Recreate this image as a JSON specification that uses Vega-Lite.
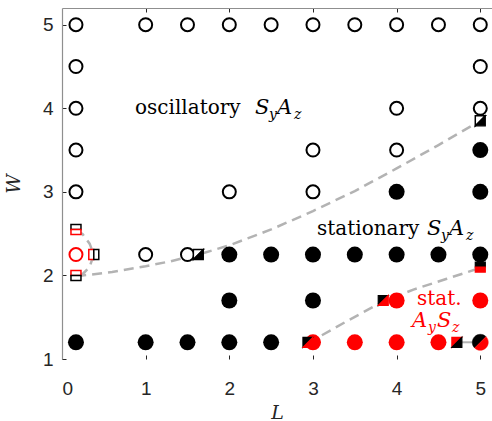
{
  "$schema": "https://vega.github.io/schema/vega-lite/v6.json",
  "width": 430,
  "height": 351,
  "autosize": {"type": "none"},
  "padding": {"left": 62, "top": 8, "right": 0, "bottom": 62},
  "background": "#ffffff",
  "config": {"view": {"stroke": null}},
  "datasets": {
    "runs": [
      {"L": 0.167, "W": 5, "branch": "SyAz", "regime": "osc"},
      {"L": 1, "W": 5, "branch": "SyAz", "regime": "osc"},
      {"L": 1.5, "W": 5, "branch": "SyAz", "regime": "osc"},
      {"L": 2, "W": 5, "branch": "SyAz", "regime": "osc"},
      {"L": 2.5, "W": 5, "branch": "SyAz", "regime": "osc"},
      {"L": 3, "W": 5, "branch": "SyAz", "regime": "osc"},
      {"L": 3.5, "W": 5, "branch": "SyAz", "regime": "osc"},
      {"L": 4, "W": 5, "branch": "SyAz", "regime": "osc"},
      {"L": 4.5, "W": 5, "branch": "SyAz", "regime": "osc"},
      {"L": 5, "W": 5, "branch": "SyAz", "regime": "osc"},
      {"L": 0.167, "W": 4.5, "branch": "SyAz", "regime": "osc"},
      {"L": 5, "W": 4.5, "branch": "SyAz", "regime": "osc"},
      {"L": 0.167, "W": 4, "branch": "SyAz", "regime": "osc"},
      {"L": 4, "W": 4, "branch": "SyAz", "regime": "osc"},
      {"L": 5, "W": 4, "branch": "SyAz", "regime": "osc"},
      {"L": 0.167, "W": 3.5, "branch": "SyAz", "regime": "osc"},
      {"L": 3, "W": 3.5, "branch": "SyAz", "regime": "osc"},
      {"L": 4, "W": 3.5, "branch": "SyAz", "regime": "osc"},
      {"L": 5, "W": 3.5, "branch": "SyAz", "regime": "stat"},
      {"L": 0.167, "W": 3, "branch": "SyAz", "regime": "osc"},
      {"L": 2, "W": 3, "branch": "SyAz", "regime": "osc"},
      {"L": 3, "W": 3, "branch": "SyAz", "regime": "osc"},
      {"L": 4, "W": 3, "branch": "SyAz", "regime": "stat"},
      {"L": 5, "W": 3, "branch": "SyAz", "regime": "stat"},
      {"L": 0.167, "W": 2.25, "branch": "AySz", "regime": "osc"},
      {"L": 1, "W": 2.25, "branch": "SyAz", "regime": "osc"},
      {"L": 1.5, "W": 2.25, "branch": "SyAz", "regime": "osc"},
      {"L": 2, "W": 2.25, "branch": "SyAz", "regime": "stat"},
      {"L": 2.5, "W": 2.25, "branch": "SyAz", "regime": "stat"},
      {"L": 3, "W": 2.25, "branch": "SyAz", "regime": "stat"},
      {"L": 3.5, "W": 2.25, "branch": "SyAz", "regime": "stat"},
      {"L": 4, "W": 2.25, "branch": "SyAz", "regime": "stat"},
      {"L": 4.5, "W": 2.25, "branch": "SyAz", "regime": "stat"},
      {"L": 5, "W": 2.25, "branch": "SyAz", "regime": "stat"},
      {"L": 2, "W": 1.7, "branch": "SyAz", "regime": "stat"},
      {"L": 3, "W": 1.7, "branch": "SyAz", "regime": "stat"},
      {"L": 4, "W": 1.7, "branch": "AySz", "regime": "stat"},
      {"L": 5, "W": 1.7, "branch": "AySz", "regime": "stat"},
      {"L": 0.167, "W": 1.2, "branch": "SyAz", "regime": "stat"},
      {"L": 1, "W": 1.2, "branch": "SyAz", "regime": "stat"},
      {"L": 1.5, "W": 1.2, "branch": "SyAz", "regime": "stat"},
      {"L": 2, "W": 1.2, "branch": "SyAz", "regime": "stat"},
      {"L": 2.5, "W": 1.2, "branch": "SyAz", "regime": "stat"},
      {"L": 3, "W": 1.2, "branch": "AySz", "regime": "stat"},
      {"L": 3.5, "W": 1.2, "branch": "AySz", "regime": "stat"},
      {"L": 4, "W": 1.2, "branch": "AySz", "regime": "stat"},
      {"L": 4.5, "W": 1.2, "branch": "AySz", "regime": "stat"}
    ],
    "switches": [
      {"L": 0.167, "W": 2.55, "marker": "square", "part": "top", "branch": "SyAz", "regime": "osc"},
      {"L": 0.167, "W": 2.55, "marker": "square", "part": "bottom", "branch": "AySz", "regime": "osc"},
      {"L": 0.167, "W": 2.0, "marker": "square", "part": "top", "branch": "AySz", "regime": "osc"},
      {"L": 0.167, "W": 2.0, "marker": "square", "part": "bottom", "branch": "SyAz", "regime": "osc"},
      {"L": 0.38, "W": 2.25, "marker": "square", "part": "left", "branch": "AySz", "regime": "osc"},
      {"L": 0.38, "W": 2.25, "marker": "square", "part": "right", "branch": "SyAz", "regime": "osc"},
      {"L": 1.63, "W": 2.25, "marker": "square", "part": "upper-left", "branch": "SyAz", "regime": "osc"},
      {"L": 1.63, "W": 2.25, "marker": "square", "part": "lower-right", "branch": "SyAz", "regime": "stat"},
      {"L": 5, "W": 3.85, "marker": "square", "part": "upper-left", "branch": "SyAz", "regime": "osc"},
      {"L": 5, "W": 3.85, "marker": "square", "part": "lower-right", "branch": "SyAz", "regime": "stat"},
      {"L": 5, "W": 2.1, "marker": "square", "part": "top", "branch": "SyAz", "regime": "stat"},
      {"L": 5, "W": 2.1, "marker": "square", "part": "bottom", "branch": "AySz", "regime": "stat"},
      {"L": 3.84, "W": 1.7, "marker": "square", "part": "upper-left", "branch": "SyAz", "regime": "stat"},
      {"L": 3.84, "W": 1.7, "marker": "square", "part": "lower-right", "branch": "AySz", "regime": "stat"},
      {"L": 2.94, "W": 1.2, "marker": "square", "part": "upper-left", "branch": "SyAz", "regime": "stat"},
      {"L": 2.94, "W": 1.2, "marker": "square", "part": "lower-right", "branch": "AySz", "regime": "stat"},
      {"L": 4.72, "W": 1.2, "marker": "square", "part": "upper-left", "branch": "AySz", "regime": "stat"},
      {"L": 4.72, "W": 1.2, "marker": "square", "part": "lower-right", "branch": "SyAz", "regime": "stat"},
      {"L": 5, "W": 1.2, "marker": "disc", "part": "disc-upper-left", "branch": "SyAz", "regime": "stat"},
      {"L": 5, "W": 1.2, "marker": "disc", "part": "disc-lower-right", "branch": "AySz", "regime": "stat"}
    ],
    "boundaries": [
      {"curve": "a", "seq": 1, "L": 0.17, "W": 1.99, "style": "dashed"},
      {"curve": "a", "seq": 2, "L": 0.6, "W": 2.04, "style": "dashed"},
      {"curve": "a", "seq": 3, "L": 1.0, "W": 2.11, "style": "dashed"},
      {"curve": "a", "seq": 4, "L": 1.3, "W": 2.17, "style": "dashed"},
      {"curve": "a", "seq": 5, "L": 1.63, "W": 2.25, "style": "dashed"},
      {"curve": "a", "seq": 6, "L": 2.0, "W": 2.36, "style": "dashed"},
      {"curve": "a", "seq": 7, "L": 2.5, "W": 2.55, "style": "dashed"},
      {"curve": "a", "seq": 8, "L": 3.0, "W": 2.77, "style": "dashed"},
      {"curve": "a", "seq": 9, "L": 3.5, "W": 3.01, "style": "dashed"},
      {"curve": "a", "seq": 10, "L": 4.0, "W": 3.28, "style": "dashed"},
      {"curve": "a", "seq": 11, "L": 4.5, "W": 3.56, "style": "dashed"},
      {"curve": "a", "seq": 12, "L": 5.0, "W": 3.85, "style": "dashed"},
      {"curve": "b", "seq": 1, "L": 0.167, "W": 2.55, "style": "dashed"},
      {"curve": "b", "seq": 2, "L": 0.25, "W": 2.49, "style": "dashed"},
      {"curve": "b", "seq": 3, "L": 0.33, "W": 2.38, "style": "dashed"},
      {"curve": "b", "seq": 4, "L": 0.38, "W": 2.25, "style": "dashed"},
      {"curve": "b", "seq": 5, "L": 0.33, "W": 2.1, "style": "dashed"},
      {"curve": "b", "seq": 6, "L": 0.25, "W": 2.02, "style": "dashed"},
      {"curve": "b", "seq": 7, "L": 0.167, "W": 2.0, "style": "dashed"},
      {"curve": "c", "seq": 1, "L": 2.94, "W": 1.19, "style": "dashed"},
      {"curve": "c", "seq": 2, "L": 3.4, "W": 1.45, "style": "dashed"},
      {"curve": "c", "seq": 3, "L": 3.84, "W": 1.69, "style": "dashed"},
      {"curve": "c", "seq": 4, "L": 4.2, "W": 1.83, "style": "dashed"},
      {"curve": "c", "seq": 5, "L": 4.6, "W": 1.96, "style": "dashed"},
      {"curve": "c", "seq": 6, "L": 5.0, "W": 2.09, "style": "dashed"},
      {"curve": "link", "seq": 1, "L": 4.72, "W": 1.2, "style": "solid"},
      {"curve": "link", "seq": 2, "L": 5.0, "W": 1.2, "style": "solid"}
    ],
    "labels": [
      {"L": 0.873, "W": 3.932, "text": "oscillatory", "branch": "SyAz", "kind": "word"},
      {"L": 2.307, "W": 3.932, "text": "S", "branch": "SyAz", "kind": "sym"},
      {"L": 2.474, "W": 3.872, "text": "y", "branch": "SyAz", "kind": "sub"},
      {"L": 2.57, "W": 3.932, "text": "A", "branch": "SyAz", "kind": "sym"},
      {"L": 2.773, "W": 3.872, "text": "z", "branch": "SyAz", "kind": "sub"},
      {"L": 3.048, "W": 2.484, "text": "stationary", "branch": "SyAz", "kind": "word"},
      {"L": 4.363, "W": 2.484, "text": "S", "branch": "SyAz", "kind": "sym"},
      {"L": 4.53, "W": 2.424, "text": "y", "branch": "SyAz", "kind": "sub"},
      {"L": 4.626, "W": 2.484, "text": "A", "branch": "SyAz", "kind": "sym"},
      {"L": 4.829, "W": 2.424, "text": "z", "branch": "SyAz", "kind": "sub"},
      {"L": 4.243, "W": 1.646, "text": "stat.", "branch": "AySz", "kind": "word"},
      {"L": 4.184, "W": 1.383, "text": "A", "branch": "AySz", "kind": "sym"},
      {"L": 4.375, "W": 1.323, "text": "y", "branch": "AySz", "kind": "sub"},
      {"L": 4.483, "W": 1.383, "text": "S", "branch": "AySz", "kind": "sym"},
      {"L": 4.662, "W": 1.323, "text": "z", "branch": "AySz", "kind": "sub"}
    ]
  },
  "resolve": {"axis": {"x": "independent", "y": "independent"}},
  "layer": [
    {
      "data": {"name": "boundaries"},
      "transform": [{"filter": "datum.style === 'dashed'"}],
      "mark": {"type": "line", "stroke": "#b3b3b3", "strokeWidth": 2.5, "strokeDash": [10, 6]},
      "encoding": {
        "x": {"field": "L", "type": "quantitative", "scale": {"domain": [0, 5.14], "nice": false, "zero": false},
          "axis": {"orient": "top", "values": [1, 2, 3, 4, 5], "labels": false, "title": null, "grid": false,
            "domain": true, "domainColor": "#8f8f8f", "domainWidth": 1.2, "tickSize": -4, "tickColor": "#262626", "tickWidth": 1}},
        "y": {"field": "W", "type": "quantitative", "scale": {"domain": [1, 5.2], "nice": false, "zero": false}, "axis": null},
        "detail": {"field": "curve"},
        "order": {"field": "seq", "type": "quantitative"}
      }
    },
    {
      "data": {"name": "boundaries"},
      "transform": [{"filter": "datum.style === 'solid'"}],
      "mark": {"type": "line", "stroke": "#b3b3b3", "strokeWidth": 2},
      "encoding": {
        "x": {"field": "L", "type": "quantitative", "axis": null},
        "y": {"field": "W", "type": "quantitative", "axis": null},
        "order": {"field": "seq", "type": "quantitative"}
      }
    },
    {
      "mark": {"type": "rule", "stroke": "#ff0000", "strokeWidth": 2, "strokeDash": [9, 26]},
      "encoding": {"y": {"datum": 1, "type": "quantitative", "axis": null}}
    },
    {
      "mark": {"type": "rule", "stroke": "#000000", "strokeWidth": 2, "strokeDash": [9, 26], "strokeDashOffset": 17.5},
      "encoding": {"y": {"datum": 1, "type": "quantitative", "axis": null}}
    },
    {
      "data": {"name": "runs"},
      "transform": [{"filter": "datum.regime === 'osc'"}],
      "mark": {"type": "point", "shape": "circle", "size": 169, "strokeWidth": 2, "fill": "#ffffff", "fillOpacity": 1, "opacity": 1},
      "encoding": {
        "x": {"field": "L", "type": "quantitative",
          "axis": {"orient": "bottom", "values": [0, 1, 2, 3, 4, 5], "format": "d", "grid": false, "domain": false,
            "tickSize": -4, "tickColor": "#262626", "tickWidth": 1,
            "labelFont": "Liberation Sans", "labelFontSize": 19, "labelColor": "#262626", "labelPadding": 24,
            "title": "L", "titleFont": "DejaVu Serif", "titleFontStyle": "italic", "titleFontWeight": "normal",
            "titleFontSize": 19, "titleColor": "#262626", "titlePadding": 5}},
        "y": {"field": "W", "type": "quantitative",
          "axis": {"orient": "left", "values": [1, 2, 3, 4, 5], "format": "d", "grid": false,
            "domain": true, "domainColor": "#8f8f8f", "domainWidth": 1.2,
            "tickSize": -4, "tickColor": "#262626", "tickWidth": 1,
            "labelFont": "Liberation Sans", "labelFontSize": 19, "labelColor": "#262626", "labelPadding": 13,
            "title": "W", "titleFont": "DejaVu Serif", "titleFontStyle": "italic", "titleFontWeight": "normal",
            "titleFontSize": 19, "titleColor": "#262626", "titlePadding": 19}},
        "stroke": {"field": "branch", "type": "nominal", "scale": {"domain": ["SyAz", "AySz"], "range": ["#000000", "#ff0000"]}, "legend": null}
      }
    },
    {
      "data": {"name": "runs"},
      "transform": [{"filter": "datum.regime === 'stat'"}],
      "mark": {"type": "point", "shape": "circle", "size": 256, "filled": true, "strokeWidth": 0, "opacity": 1},
      "encoding": {
        "x": {"field": "L", "type": "quantitative", "axis": null},
        "y": {"field": "W", "type": "quantitative", "axis": null},
        "fill": {"field": "branch", "type": "nominal", "scale": {"domain": ["SyAz", "AySz"], "range": ["#000000", "#ff0000"]}, "legend": null}
      }
    },
    {
      "data": {"name": "switches"},
      "transform": [{"filter": "datum.marker === 'square' && datum.regime === 'osc'"}],
      "mark": {"type": "point", "size": 100, "strokeWidth": 1.5, "fill": "#ffffff", "fillOpacity": 1, "opacity": 1},
      "encoding": {
        "x": {"field": "L", "type": "quantitative", "axis": null},
        "y": {"field": "W", "type": "quantitative", "axis": null},
        "shape": {"field": "part", "type": "nominal", "legend": null,
          "scale": {"domain": ["top", "bottom", "left", "right", "upper-left", "lower-right", "disc-upper-left", "disc-lower-right"],
            "range": ["M-1,-1L1,-1L1,0L-1,0Z", "M-1,0L1,0L1,1L-1,1Z", "M-1,-1L0,-1L0,1L-1,1Z", "M0,-1L1,-1L1,1L0,1Z",
              "M-1,-1L1,-1L-1,1Z", "M1,-1L1,1L-1,1Z",
              "M-0.7071,0.7071A1,1,0,0,1,0.7071,-0.7071Z", "M0.7071,-0.7071A1,1,0,0,1,-0.7071,0.7071Z"]}},
        "stroke": {"field": "branch", "type": "nominal", "legend": null}
      }
    },
    {
      "data": {"name": "switches"},
      "transform": [{"filter": "datum.marker === 'square' && datum.regime === 'stat'"}],
      "mark": {"type": "point", "size": 100, "strokeWidth": 1.2, "filled": true, "opacity": 1},
      "encoding": {
        "x": {"field": "L", "type": "quantitative", "axis": null},
        "y": {"field": "W", "type": "quantitative", "axis": null},
        "shape": {"field": "part", "type": "nominal", "legend": null},
        "fill": {"field": "branch", "type": "nominal", "legend": null},
        "stroke": {"field": "branch", "type": "nominal", "legend": null}
      }
    },
    {
      "data": {"name": "switches"},
      "transform": [{"filter": "datum.marker === 'disc'"}],
      "mark": {"type": "point", "size": 256, "strokeWidth": 0.5, "filled": true, "opacity": 1},
      "encoding": {
        "x": {"field": "L", "type": "quantitative", "axis": null},
        "y": {"field": "W", "type": "quantitative", "axis": null},
        "shape": {"field": "part", "type": "nominal", "legend": null},
        "fill": {"field": "branch", "type": "nominal", "legend": null},
        "stroke": {"field": "branch", "type": "nominal", "legend": null}
      }
    },
    {
      "data": {"name": "labels"},
      "transform": [{"filter": "datum.kind === 'word'"}],
      "mark": {"type": "text", "font": "DejaVu Serif", "fontSize": 20, "align": "left", "baseline": "alphabetic"},
      "encoding": {
        "x": {"field": "L", "type": "quantitative", "axis": null},
        "y": {"field": "W", "type": "quantitative", "axis": null},
        "text": {"field": "text"},
        "color": {"field": "branch", "type": "nominal", "scale": {"domain": ["SyAz", "AySz"], "range": ["#000000", "#ff0000"]}, "legend": null}
      }
    },
    {
      "data": {"name": "labels"},
      "transform": [{"filter": "datum.kind === 'sym'"}],
      "mark": {"type": "text", "font": "DejaVu Serif", "fontStyle": "italic", "fontSize": 21, "align": "left", "baseline": "alphabetic"},
      "encoding": {
        "x": {"field": "L", "type": "quantitative", "axis": null},
        "y": {"field": "W", "type": "quantitative", "axis": null},
        "text": {"field": "text"},
        "color": {"field": "branch", "type": "nominal", "legend": null}
      }
    },
    {
      "data": {"name": "labels"},
      "transform": [{"filter": "datum.kind === 'sub'"}],
      "mark": {"type": "text", "font": "DejaVu Serif", "fontStyle": "italic", "fontSize": 14, "align": "left", "baseline": "alphabetic"},
      "encoding": {
        "x": {"field": "L", "type": "quantitative", "axis": null},
        "y": {"field": "W", "type": "quantitative", "axis": null},
        "text": {"field": "text"},
        "color": {"field": "branch", "type": "nominal", "legend": null}
      }
    }
  ]
}
